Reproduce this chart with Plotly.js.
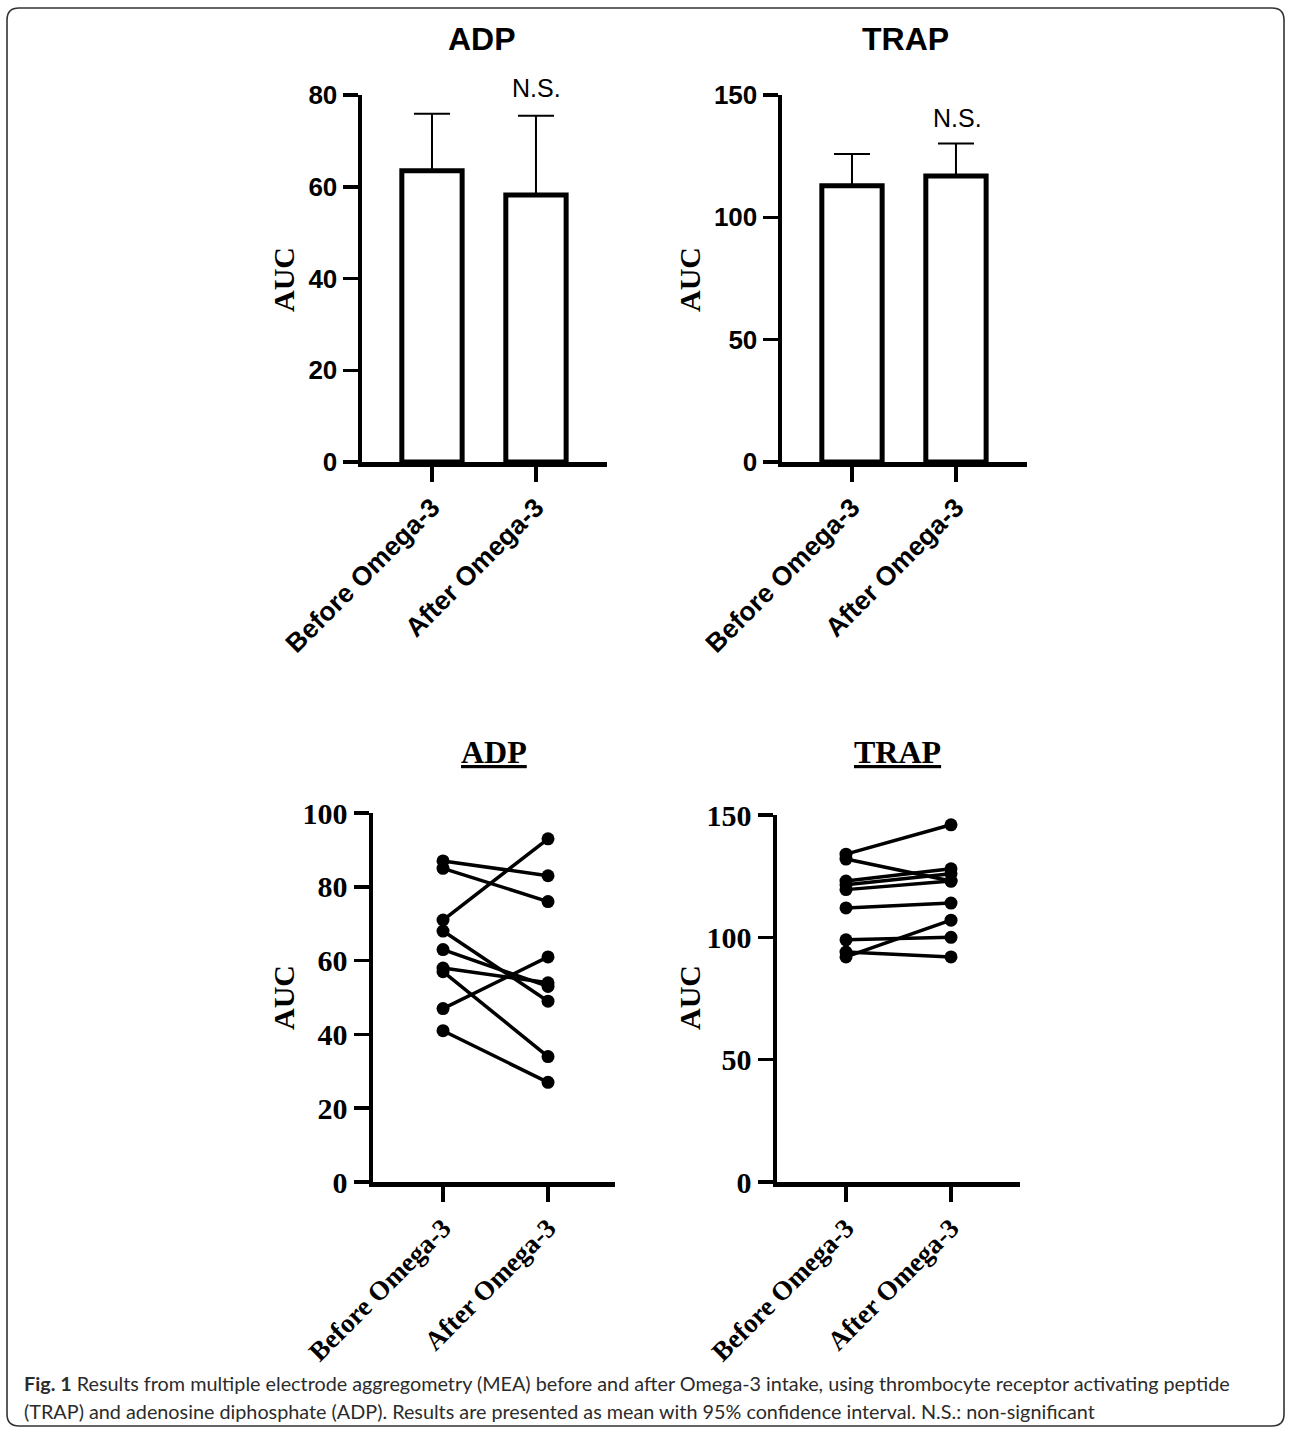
<!DOCTYPE html>
<html>
<head>
<meta charset="utf-8">
<script src="https://cdn.plot.ly/plotly-3.0.1.min.js"></script>
<style>html,body{margin:0;padding:0;background:#fff;}#chart{width:1290px;height:1430px;}</style>
</head>
<body>
<div id="chart"></div>
<script>
// ---- data ----
const categories = ['Before Omega-3', 'After Omega-3'];
const adpMean = [63.5, 58.2];
const adpUpperCI = [75.9, 75.5];
const trapMean = [112.9, 116.9];
const trapUpperCI = [125.9, 130.2];
const adpBefore = [87, 85, 71, 68, 63, 58, 57, 47, 41];
const adpAfter  = [83, 76, 93, 49, 53, 54, 34, 61, 27];
const trapBefore = [134, 132, 123, 121.5, 119.5, 112, 99, 94, 92];
const trapAfter  = [146, 123, 128, 126, 123, 114, 100, 92, 107];
const adpTicks = [0, 20, 40, 60, 80];
const trapTicks = [0, 50, 100, 150];
const adpPairTicks = [0, 20, 40, 60, 80, 100];
const captionBold = 'Fig. 1';
const captionLine1 = ' Results from multiple electrode aggregometry (MEA) before and after Omega-3 intake, using thrombocyte receptor activating peptide';
const captionLine2 = '(TRAP) and adenosine diphosphate (ADP). Results are presented as mean with 95% confidence interval. N.S.: non-significant';

// ---- layout helpers ----
const W = 1290, H = 1430;
const px = x => x / W;
const py = y => 1 - y / H;
const SANS = 'Liberation Sans, Arial, sans-serif';
const SERIF = 'Liberation Serif, Times New Roman, serif';

function barTrace(mean, upper, xa, ya) {
  return {
    type: 'bar', x: categories, y: mean, xaxis: xa, yaxis: ya, width: 0.58,
    marker: {color: '#ffffff', line: {color: '#000', width: 5}},
    error_y: {type: 'data', symmetric: false, array: upper.map((u, i) => u - mean[i]),
              arrayminus: mean.map(() => 0), color: '#000', thickness: 2, width: 18},
    showlegend: false, hoverinfo: 'skip'
  };
}
function pairTraces(before, after, xa, ya) {
  return before.map((b, i) => ({
    type: 'scatter', mode: 'lines+markers', x: categories, y: [b, after[i]],
    xaxis: xa, yaxis: ya, line: {color: '#000', width: 3.5},
    marker: {color: '#000', size: 13}, showlegend: false, hoverinfo: 'skip', cliponaxis: false
  }));
}

const data = [
  barTrace(adpMean, adpUpperCI, 'x', 'y'),
  barTrace(trapMean, trapUpperCI, 'x2', 'y2'),
  ...pairTraces(adpBefore, adpAfter, 'x3', 'y3'),
  ...pairTraces(trapBefore, trapAfter, 'x4', 'y4')
];

function xax(x0, x1, range, fam, size, anchor) {
  return {domain: [px(x0), px(x1)], anchor: anchor, range: range, type: 'category',
    showline: true, linecolor: '#000', linewidth: 4.5, ticks: 'outside', ticklen: 15,
    tickwidth: 3.5, tickcolor: '#000', tickangle: -45, showgrid: false, zeroline: false,
    tickfont: {family: fam, size: size, color: '#000', weight: 'bold'}, fixedrange: true};
}
function yax(y0, y1, range, tickvals, fam, size, anchor) {
  return {domain: [py(y1), py(y0)], anchor: anchor, range: range, tickvals: tickvals,
    showline: true, linecolor: '#000', linewidth: 4.5, ticks: 'outside', ticklen: 15,
    tickwidth: 3.5, tickcolor: '#000', showgrid: false, zeroline: false,
    tickfont: {family: fam, size: size, color: '#000', weight: 'bold'}, fixedrange: true};
}

const layout = {
  width: W, height: H, margin: {l: 0, r: 0, t: 0, b: 0},
  paper_bgcolor: '#fff', plot_bgcolor: 'rgba(0,0,0,0)', showlegend: false,
  bargap: 0,
  xaxis:  xax(362, 607, [-0.673, 1.683], SANS, 26.5, 'y'),
  yaxis:  yax(95, 462, [0, 80], adpTicks, SANS, 26, 'x'),
  xaxis2: xax(782, 1027, [-0.673, 1.683], SANS, 26.5, 'y2'),
  yaxis2: yax(95, 462, [0, 150], trapTicks, SANS, 26, 'x2'),
  xaxis3: xax(373, 615, [-0.667, 1.638], SERIF, 27, 'y3'),
  yaxis3: yax(813, 1182, [0, 100], adpPairTicks, SERIF, 30, 'x3'),
  xaxis4: xax(777, 1020, [-0.657, 1.657], SERIF, 27, 'y4'),
  yaxis4: yax(815, 1182, [0, 150], trapTicks, SERIF, 30, 'x4'),
  annotations: [
    {text: 'ADP', x: px(482), y: py(39), font: {family: SANS, size: 32, weight: 'bold', color: '#000'}},
    {text: 'TRAP', x: px(905), y: py(39), font: {family: SANS, size: 32, weight: 'bold', color: '#000'}},
    {text: 'N.S.', x: px(536), y: py(88), font: {family: SANS, size: 25, color: '#000'}},
    {text: 'N.S.', x: px(957), y: py(118), font: {family: SANS, size: 25, color: '#000'}},
    {text: 'AUC', x: px(283), y: py(280), textangle: -90, font: {family: SERIF, size: 30, weight: 'bold', color: '#000'}},
    {text: 'AUC', x: px(689), y: py(280), textangle: -90, font: {family: SERIF, size: 30, weight: 'bold', color: '#000'}},
    {text: 'AUC', x: px(283), y: py(998), textangle: -90, font: {family: SERIF, size: 30, weight: 'bold', color: '#000'}},
    {text: 'AUC', x: px(689), y: py(998), textangle: -90, font: {family: SERIF, size: 30, weight: 'bold', color: '#000'}},
    {text: 'ADP', x: px(494), y: py(752), font: {family: SERIF, size: 32, weight: 'bold', color: '#000', lineposition: 'under'}},
    {text: 'TRAP', x: px(897), y: py(752), font: {family: SERIF, size: 32, weight: 'bold', color: '#000', lineposition: 'under'}},
    {text: '<b>' + captionBold + '</b>' + captionLine1, x: px(22), y: py(1383), xanchor: 'left',
     font: {family: 'Lato, Noto Sans, sans-serif', size: 19.8, color: '#2b2b2b'}},
    {text: captionLine2, x: px(22), y: py(1411), xanchor: 'left',
     font: {family: 'Lato, Noto Sans, sans-serif', size: 19.8, color: '#2b2b2b'}}
  ].map(a => Object.assign({xref: 'paper', yref: 'paper', showarrow: false, xanchor: 'center', yanchor: 'middle'}, a)),
  shapes: [{
    type: 'path', xref: 'paper', yref: 'paper', layer: 'below',
    line: {color: '#333', width: 1.6},
    path: `M ${px(7)} ${py(20)} Q ${px(7)} ${py(8)} ${px(19)} ${py(8)} L ${px(1272)} ${py(8)} Q ${px(1284)} ${py(8)} ${px(1284)} ${py(20)} L ${px(1284)} ${py(1414)} Q ${px(1284)} ${py(1426)} ${px(1272)} ${py(1426)} L ${px(19)} ${py(1426)} Q ${px(7)} ${py(1426)} ${px(7)} ${py(1414)} Z`
  }]
};

Plotly.newPlot('chart', data, layout, {staticPlot: true, displayModeBar: false});
</script>
</body>
</html>
